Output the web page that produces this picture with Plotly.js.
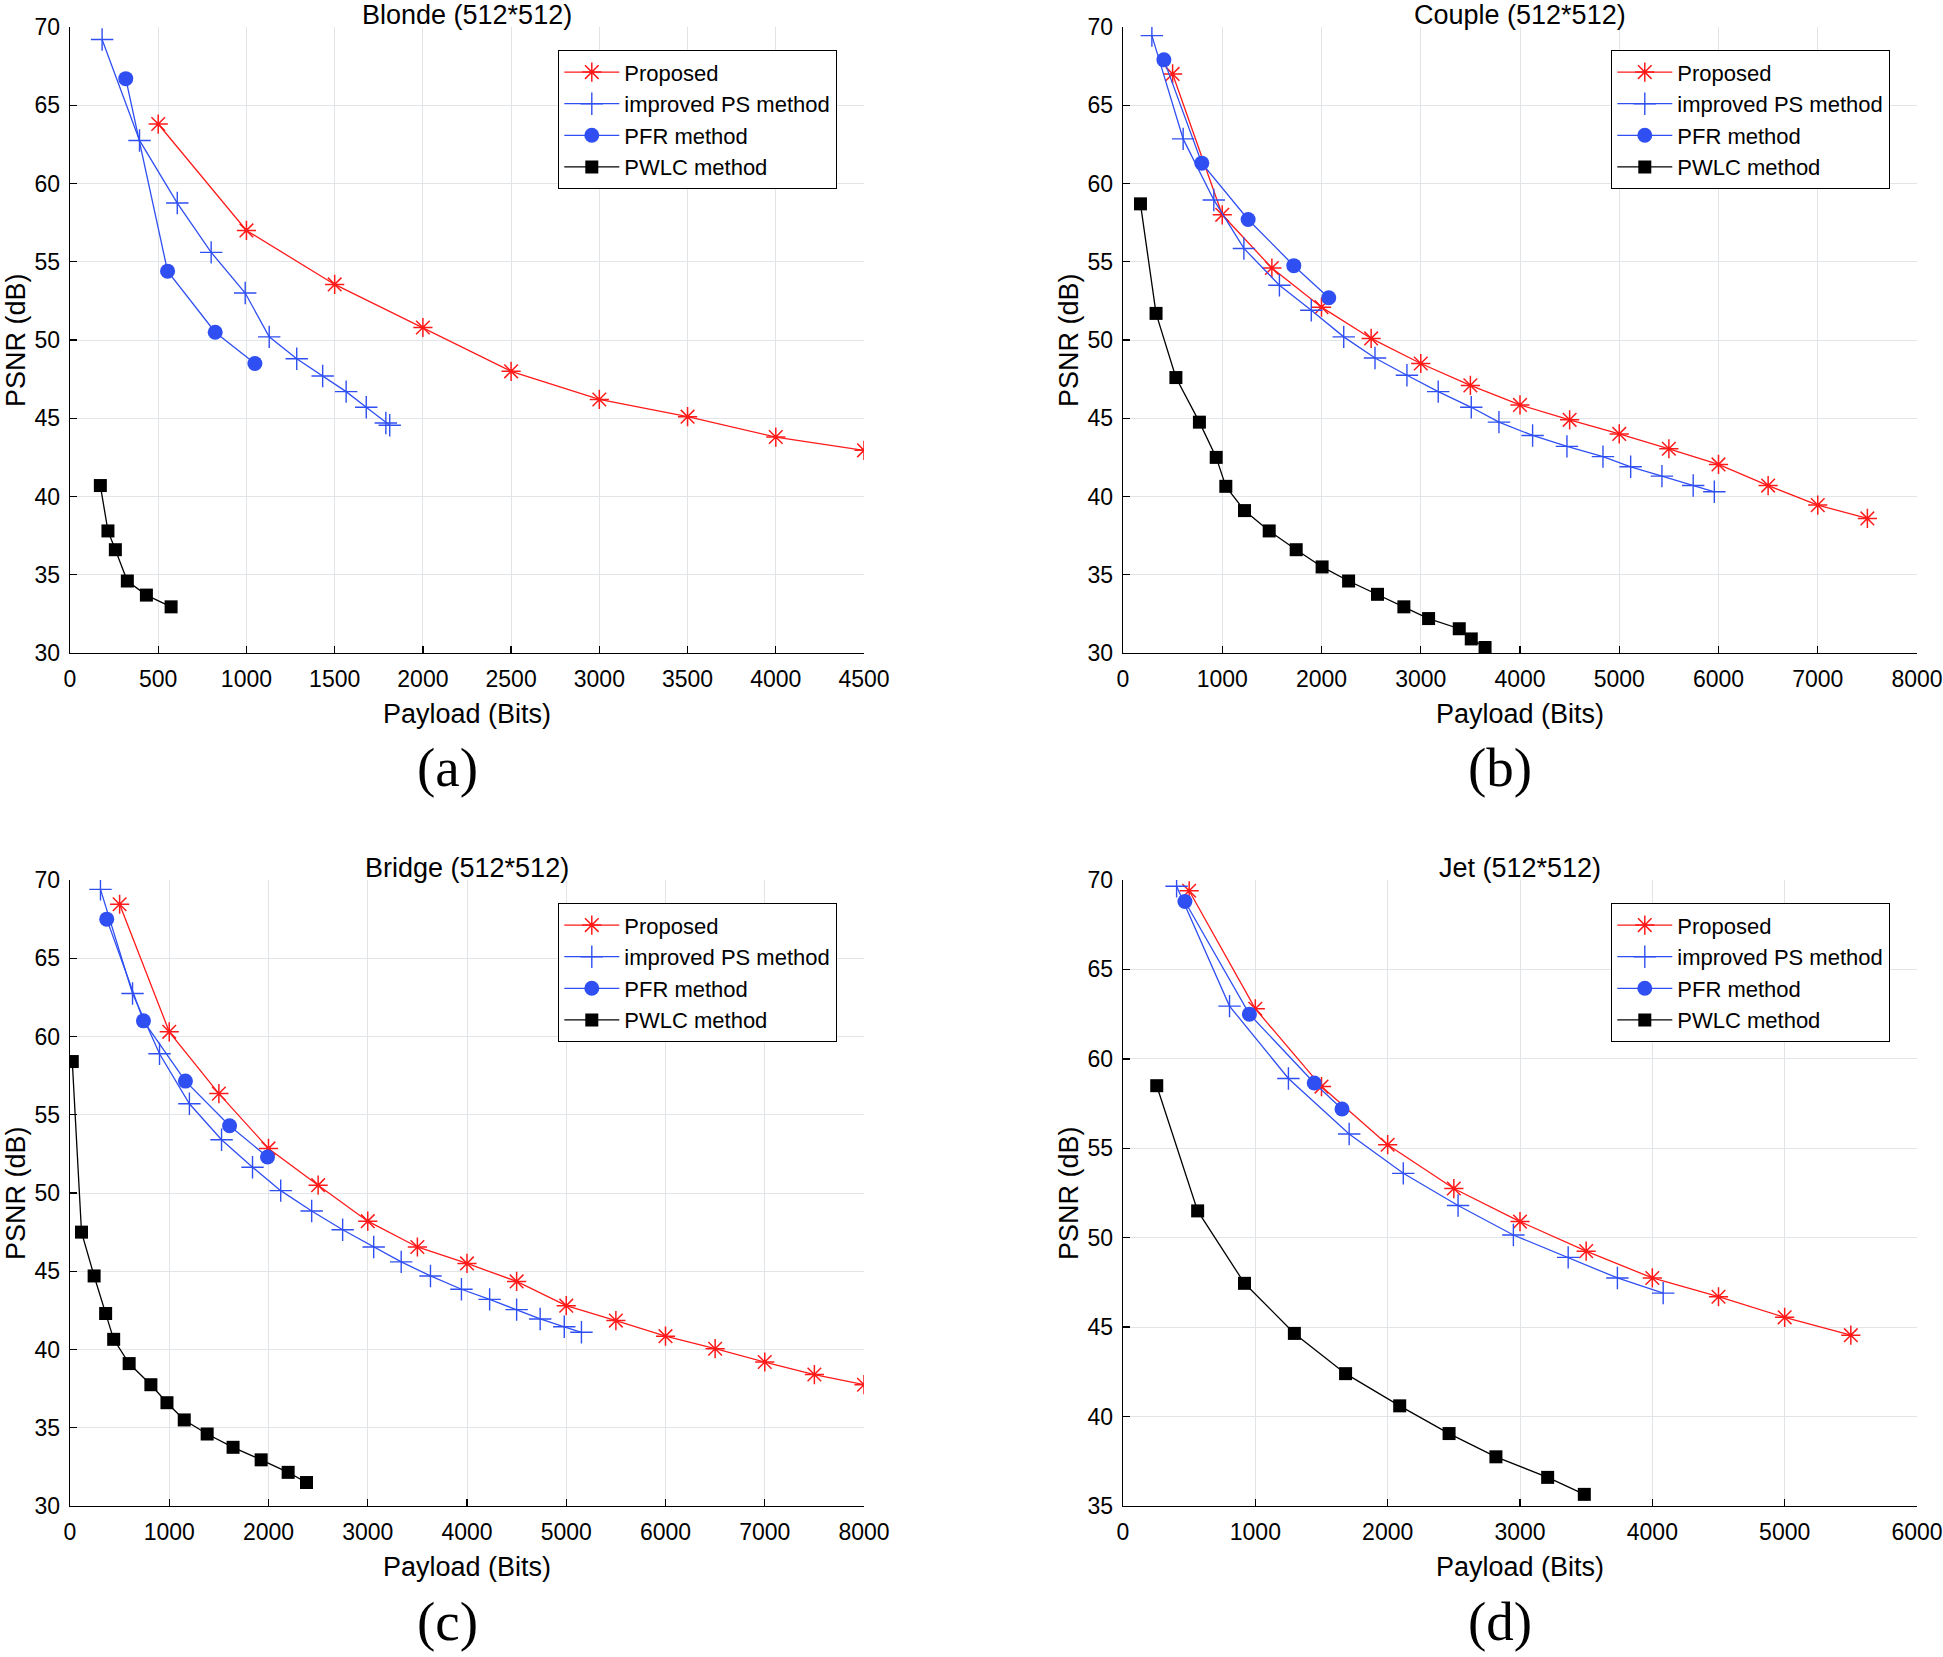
<!DOCTYPE html>
<html>
<head>
<meta charset="utf-8">
<script src="https://cdn.plot.ly/plotly-3.0.1.min.js"></script>
<style>
  html, body { margin: 0; padding: 0; background: #fff; }
  #chart { width: 1943px; height: 1657px; }
</style>
</head>
<body>
<div id="chart"></div>
<script>
// --- Data ---
const seriesNames = ["Proposed", "improved PS method", "PFR method", "PWLC method"];
const panelTitles = ["Blonde (512*512)", "Couple (512*512)", "Bridge (512*512)", "Jet (512*512)"];
const panelLabels = ["(a)", "(b)", "(c)", "(d)"];

// (a) Blonde
const blondePropX = [500, 1000, 1500, 2000, 2500, 3000, 3500, 4000, 4500];
const blondePropY = [63.8, 57.0, 53.55, 50.8, 48.0, 46.2, 45.1, 43.8, 42.95];
const blondePsX = [182, 394, 608, 800, 993, 1129, 1285, 1432, 1565, 1679, 1790, 1812];
const blondePsY = [69.2, 62.75, 58.75, 55.6, 53.0, 50.2, 48.8, 47.7, 46.7, 45.7, 44.7, 44.55];
const blondePfrX = [316, 553, 823, 1048];
const blondePfrY = [66.7, 54.4, 50.5, 48.5];
const blondePwlcX = [172, 215, 257, 325, 433, 573];
const blondePwlcY = [40.7, 37.8, 36.6, 34.6, 33.7, 32.95];

// (b) Couple
const couplePropX = [500, 1000, 1500, 2000, 2500, 3000, 3500, 4000, 4500, 5000, 5500, 6000, 6500, 7000, 7500];
const couplePropY = [67.0, 58.0, 54.6, 52.1, 50.1, 48.5, 47.1, 45.85, 44.9, 44.0, 43.05, 42.05, 40.7, 39.45, 38.6];
const couplePsX = [291, 606, 915, 1218, 1576, 1897, 2224, 2539, 2861, 3176, 3509, 3788, 4127, 4473, 4836, 5115, 5430, 5745, 5958];
const couplePsY = [69.45, 62.85, 58.95, 55.85, 53.5, 51.9, 50.2, 48.85, 47.75, 46.7, 45.7, 44.75, 43.9, 43.2, 42.55, 41.9, 41.3, 40.7, 40.3];
const couplePfrX = [412, 794, 1261, 1721, 2073];
const couplePfrY = [67.9, 61.3, 57.7, 54.75, 52.7];
const couplePwlcX = [176, 333, 533, 770, 939, 1036, 1224, 1473, 1745, 2006, 2273, 2564, 2830, 3079, 3388, 3509, 3648];
const couplePwlcY = [58.7, 51.7, 47.6, 44.75, 42.5, 40.65, 39.1, 37.8, 36.6, 35.5, 34.6, 33.75, 32.95, 32.2, 31.55, 30.9, 30.35];

// (c) Bridge
const bridgePropX = [500, 1000, 1500, 2000, 2500, 3000, 3500, 4000, 4500, 5000, 5500, 6000, 6500, 7000, 7500, 8000];
const bridgePropY = [68.45, 60.3, 56.35, 52.85, 50.5, 48.2, 46.55, 45.5, 44.35, 42.8, 41.85, 40.85, 40.05, 39.2, 38.4, 37.75];
const bridgePsX = [307, 630, 902, 1203, 1527, 1839, 2123, 2435, 2747, 3060, 3337, 3632, 3944, 4228, 4500, 4737, 4980, 5153];
const bridgePsY = [69.4, 62.75, 58.9, 55.7, 53.4, 51.65, 50.15, 48.85, 47.65, 46.55, 45.6, 44.7, 43.85, 43.2, 42.55, 41.95, 41.45, 41.1];
const bridgePfrX = [370, 740, 1163, 1608, 1990];
const bridgePfrY = [67.5, 61.0, 57.15, 54.3, 52.3];
const bridgePwlcX = [23, 116, 243, 359, 440, 596, 815, 977, 1151, 1382, 1643, 1926, 2198, 2383];
const bridgePwlcY = [58.4, 47.5, 44.7, 42.3, 40.65, 39.1, 37.75, 36.6, 35.5, 34.6, 33.75, 32.95, 32.15, 31.5];

// (d) Jet
const jetPropX = [500, 1000, 1500, 2000, 2500, 3000, 3500, 4000, 4500, 5000, 5500];
const jetPropY = [69.4, 62.8, 58.45, 55.2, 52.75, 50.9, 49.25, 47.75, 46.7, 45.55, 44.55];
const jetPsX = [405, 805, 1250, 1709, 2118, 2532, 2950, 3364, 3736, 4082];
const jetPsY = [69.65, 62.95, 58.9, 55.8, 53.6, 51.8, 50.15, 48.9, 47.75, 46.9];
const jetPfrX = [468, 955, 1445, 1655];
const jetPfrY = [68.8, 62.5, 58.65, 57.2];
const jetPwlcX = [255, 564, 918, 1295, 1682, 2091, 2464, 2818, 3209, 3486];
const jetPwlcY = [58.5, 51.5, 47.45, 44.65, 42.4, 40.6, 39.05, 37.75, 36.6, 35.65];

const xRanges = [[0, 4500], [0, 8000], [0, 8000], [0, 6000]];
const yRanges = [[30, 70], [30, 70], [30, 70], [35, 70]];
const xSteps = [500, 1000, 1000, 1000];

// --- Figure geometry (pixels of the 1943x1657 page) ---
const W = 1943, H = 1657;
const SANS = '"Liberation Sans", Arial, Helvetica, sans-serif';
const SERIF = '"Liberation Serif", "Times New Roman", serif';
const RED = "#ff1a1a";
const BLUE = "#2f4ff2";

// plot boxes: [left, top, right, bottom]
const boxes = [
  [70, 27, 864, 653],
  [1123, 27, 1917, 653],
  [70, 880, 864, 1506],
  [1123, 880, 1917, 1506],
];

const panels = [
  [[blondePropX, blondePropY], [blondePsX, blondePsY], [blondePfrX, blondePfrY], [blondePwlcX, blondePwlcY]],
  [[couplePropX, couplePropY], [couplePsX, couplePsY], [couplePfrX, couplePfrY], [couplePwlcX, couplePwlcY]],
  [[bridgePropX, bridgePropY], [bridgePsX, bridgePsY], [bridgePfrX, bridgePfrY], [bridgePwlcX, bridgePwlcY]],
  [[jetPropX, jetPropY], [jetPsX, jetPsY], [jetPfrX, jetPfrY], [jetPwlcX, jetPwlcY]],
];

const styles = [
  { line: { color: RED, width: 1.3 }, marker: { symbol: "asterisk-open", size: 16, color: RED, line: { color: RED, width: 1.5 } } },
  { line: { color: BLUE, width: 1.3 }, marker: { symbol: "cross-thin-open", size: 16, color: BLUE, line: { color: BLUE, width: 1.4 } } },
  { line: { color: BLUE, width: 1.3 }, marker: { symbol: "circle", size: 15, color: BLUE } },
  { line: { color: "#000", width: 1.3 }, marker: { symbol: "square", size: 13, color: "#000" } },
];

const px = (x) => x / W;
const py = (y) => 1 - y / H;

const traces = [];
const layout = {
  width: W,
  height: H,
  margin: { l: 0, r: 0, t: 0, b: 0 },
  paper_bgcolor: "#fff",
  plot_bgcolor: "#fff",
  font: { family: SANS, color: "#000" },
  annotations: [],
};

panels.forEach((series, i) => {
  const n = i === 0 ? "" : String(i + 1);
  const [l, t, r, b] = boxes[i];
  const legendId = "legend" + n;

  series.forEach(([xs, ys], k) => {
    traces.push({
      x: xs,
      y: ys,
      name: seriesNames[k],
      type: "scatter",
      mode: "lines+markers",
      xaxis: "x" + n,
      yaxis: "y" + n,
      legend: legendId,
      line: styles[k].line,
      marker: styles[k].marker,
    });
  });

  const common = {
    showline: true,
    linecolor: "#000",
    linewidth: 1.3,
    ticks: "inside",
    ticklen: 7,
    tickwidth: 1.3,
    tickcolor: "#000",
    showgrid: true,
    gridcolor: "#e1e5e8",
    gridwidth: 1,
    zeroline: false,
    fixedrange: true,
    tickfont: { family: SANS, size: 23, color: "#000" },
  };

  layout["xaxis" + n] = Object.assign({}, common, {
    domain: [px(l), px(r)],
    range: xRanges[i],
    tick0: 0,
    dtick: xSteps[i],
    anchor: "y" + n,
    ticklabelstandoff: 5,
  });
  layout["yaxis" + n] = Object.assign({}, common, {
    domain: [py(b), py(t)],
    range: yRanges[i],
    tick0: 0,
    dtick: 5,
    anchor: "x" + n,
    ticklabelstandoff: 4,
  });

  layout[legendId] = {
    x: px(l + 488),
    y: py(t + 23),
    xanchor: "left",
    yanchor: "top",
    xref: "paper",
    yref: "paper",
    bgcolor: "#fff",
    bordercolor: "#000",
    borderwidth: 1.3,
    itemwidth: 55,
    tracegroupgap: 0,
    font: { family: SANS, size: 22, color: "#000" },
  };

  const cx = (l + r) / 2;
  layout.annotations.push(
    {
      text: panelTitles[i],
      x: px(cx), y: py(t - 12),
      xref: "paper", yref: "paper",
      xanchor: "center", yanchor: "middle",
      showarrow: false,
      font: { family: SANS, size: 27, color: "#000" },
    },
    {
      text: "Payload (Bits)",
      x: px(cx), y: py(b + 61),
      xref: "paper", yref: "paper",
      xanchor: "center", yanchor: "middle",
      showarrow: false,
      font: { family: SANS, size: 27, color: "#000" },
    },
    {
      text: "PSNR (dB)",
      x: px(l - 54), y: py((t + b) / 2),
      xref: "paper", yref: "paper",
      xanchor: "center", yanchor: "middle",
      textangle: -90,
      showarrow: false,
      font: { family: SANS, size: 27, color: "#000" },
    },
    {
      text: panelLabels[i],
      x: px(cx - 20), y: py(b + 115),
      xref: "paper", yref: "paper",
      xanchor: "center", yanchor: "middle",
      showarrow: false,
      font: { family: SERIF, size: 55, color: "#000" },
    }
  );
});

Plotly.newPlot("chart", traces, layout, { displayModeBar: false, staticPlot: true });
</script>
</body>
</html>
